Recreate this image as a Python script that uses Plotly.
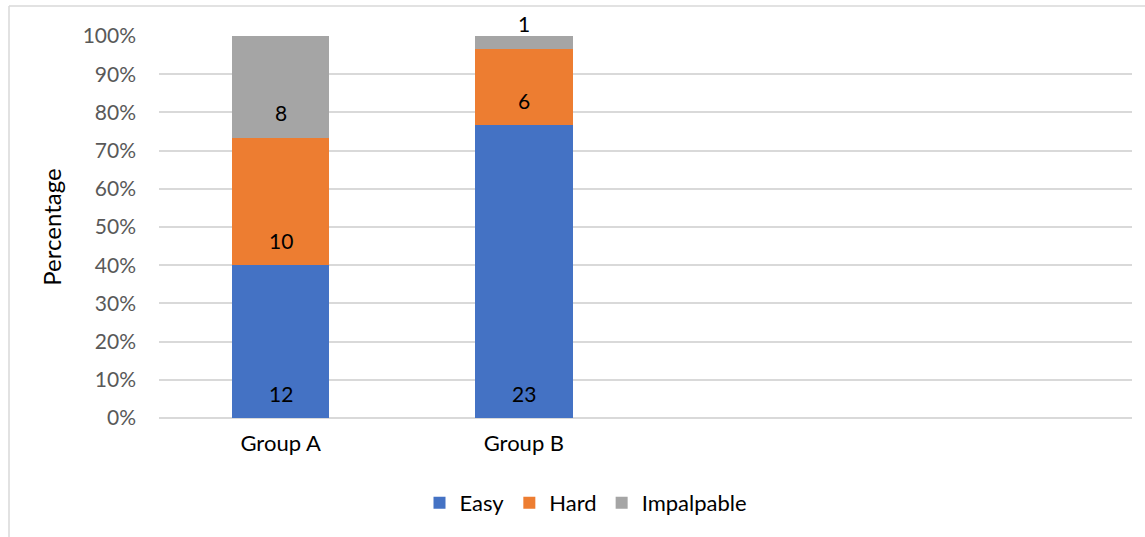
import plotly.graph_objects as go

# Response counts per group
groups = ["Group A", "Group B"]
easy = [12, 23]
hard = [10, 6]
impalpable = [8, 1]

series_names = ["Easy", "Hard", "Impalpable"]
series_colors = ["#4472C4", "#ED7D31", "#A5A5A5"]
y_ticks = [0, 0.1, 0.2, 0.3, 0.4, 0.5, 0.6, 0.7, 0.8, 0.9, 1.0]

FONT = "Lato"

# Plot-area geometry in pixels
W, H = 1145, 537
L, R, T, B = 159, 13, 36, 119
pw, ph = W - L - R, H - T - B


def px_x(x):
    return (x - L) / pw


def px_y(y):
    return (H - B - y) / ph


series_vals = [easy, hard, impalpable]
totals = [sum(v[i] for v in series_vals) for i in range(len(groups))]

fig = go.Figure()
for name, vals, col in zip(series_names, series_vals, series_colors):
    fig.add_trace(go.Bar(
        name=name,
        x=groups,
        y=vals,
        marker=dict(color=col, line=dict(width=0)),
    ))

# Data labels: near the base of each segment; a thin top segment gets its label above the bar
annotations = []
for gi, g in enumerate(groups):
    base = 0.0
    for si, vals in enumerate(series_vals):
        frac = vals[gi] / totals[gi]
        if frac < 0.1 and si == len(series_vals) - 1:
            # y axis spans the full plot height with range [0, 1], so "y domain" matches data units
            annotations.append(dict(
                x=g, y=min(base + frac, 1.0), yref="y domain", text=str(vals[gi]),
                showarrow=False, yanchor="bottom", yshift=-2,
                font=dict(family=FONT, size=21, color="#000000"),
            ))
        else:
            annotations.append(dict(
                x=g, y=base, text=str(vals[gi]), showarrow=False,
                yanchor="middle", yshift=25,
                font=dict(family=FONT, size=21, color="#000000"),
            ))
        base += frac

fig.update_layout(
    width=W, height=H,
    margin=dict(l=L, r=R, t=T, b=B),
    barmode="stack",
    barnorm="fraction",
    bargap=0.6,
    plot_bgcolor="white",
    paper_bgcolor="white",
    font=dict(family=FONT, size=21, color="#000000"),
    annotations=annotations,
    xaxis=dict(
        type="category",
        range=[-0.5, 3.5],
        showgrid=False,
        showline=False,
        ticks="",
        tickfont=dict(family=FONT, size=22, color="#000000"),
        ticklabelstandoff=10,
    ),
    yaxis=dict(
        range=[0, 1],
        tickvals=y_ticks,
        tickformat=".0%",
        showgrid=True,
        gridcolor="#D9D9D9",
        gridwidth=1.5,
        zeroline=True,
        zerolinecolor="#D9D9D9",
        zerolinewidth=1.5,
        showline=False,
        ticks="",
        ticklabelstandoff=22,
        tickfont=dict(family=FONT, size=21, color="#595959"),
        title=dict(text="Percentage", font=dict(family=FONT, size=24, color="#000000"), standoff=14),
    ),
    legend=dict(
        orientation="h",
        x=px_x(586), xanchor="center",
        y=px_y(503), yanchor="middle",
        font=dict(family=FONT, size=22, color="#000000"),
        traceorder="normal",
        itemwidth=30,
    ),
    shapes=[
        dict(type="line", xref="paper", yref="paper",
             x0=px_x(9), x1=px_x(9), y0=px_y(6), y1=px_y(560),
             line=dict(color="#D9D9D9", width=1.5)),
        dict(type="line", xref="paper", yref="paper",
             x0=px_x(9), x1=px_x(1160), y0=px_y(6), y1=px_y(6),
             line=dict(color="#D9D9D9", width=1.5)),
    ],
)

fig.write_html("out.html")
